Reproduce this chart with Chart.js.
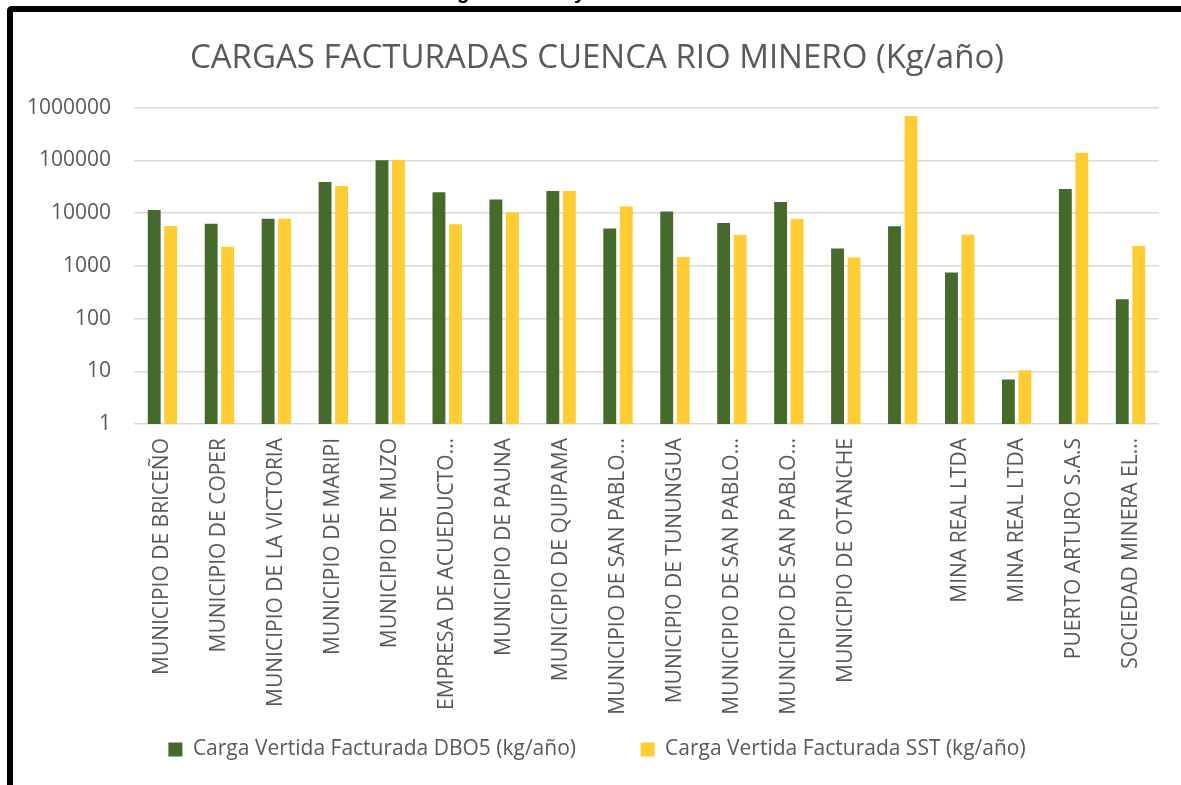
<!DOCTYPE html>
<html>
<head>
<meta charset="utf-8">
<script src="https://cdn.jsdelivr.net/npm/chart.js@4/dist/chart.umd.min.js"></script>
<style>
  html, body { margin: 0; padding: 0; background: #fff; width: 1181px; height: 785px; overflow: hidden; }
  #frame {
    position: absolute; left: 7px; top: 6px; right: 0; bottom: 0;
    border-left: 6px solid #000; border-top: 6px solid #000;
    border-top-left-radius: 5px;
  }
  #caption {
    position: absolute; top: -19px; left: 0; width: 1181px; height: 28px;
    font: bold 20px "Liberation Sans", sans-serif; color: #000;
  }
  #caption span { position: absolute; }
  #chart { position: absolute; left: 13px; top: 12px; }
</style>
</head>
<body>
<div id="caption"><span style="left:457px">g</span><span style="left:574px">y</span></div>
<div id="frame"></div>
<canvas id="chart" width="1168" height="773"></canvas>
<script>
const categories = [
    'MUNICIPIO DE BRICEÑO', 'MUNICIPIO DE COPER', 'MUNICIPIO DE LA VICTORIA', 'MUNICIPIO DE MARIPI',
    'MUNICIPIO DE MUZO', 'EMPRESA DE ACUEDUCTO…', 'MUNICIPIO DE PAUNA', 'MUNICIPIO DE QUIPAMA',
    'MUNICIPIO DE SAN PABLO…', 'MUNICIPIO DE TUNUNGUA', 'MUNICIPIO DE SAN PABLO…', 'MUNICIPIO DE SAN PABLO…',
    'MUNICIPIO DE OTANCHE', '', 'MINA REAL LTDA', 'MINA REAL LTDA', 'PUERTO ARTURO S.A.S', 'SOCIEDAD MINERA EL…'
];
const dbo5 = [11400, 6270, 7800, 38800, 100000, 24800, 18100, 26300, 5080, 10700, 6490, 16300, 2120, 5600, 748, 7, 28600, 233];
const sst = [5670, 2295, 7800, 32600, 101000, 6140, 10400, 26300, 13300, 1470, 3850, 7740, 1430, 695000, 3880, 10.5, 139700, 2366];
const yTicks = [1, 10, 100, 1000, 10000, 100000, 1000000];

const textColor = '#595959';
const fontFamily = '"Open Sans", sans-serif';

// title and legend are centred a bit further right than the full canvas
const shiftBlocks = {
    id: 'shiftBlocks',
    afterLayout(chart) {
        if (chart.titleBlock) chart.titleBlock.left = 22;
        if (chart.legend) chart.legend.left = 22;
    }
};

const ctx = document.getElementById('chart').getContext('2d');
new Chart(ctx, {
    type: 'bar',
    data: {
        labels: categories,
        datasets: [
            {
                label: 'Carga Vertida Facturada DBO5 (kg/año)',
                data: dbo5,
                backgroundColor: '#466A2C',
                barPercentage: 0.78,
                categoryPercentage: 0.58
            },
            {
                label: 'Carga Vertida Facturada SST (kg/año)',
                data: sst,
                backgroundColor: '#FFCD33',
                barPercentage: 0.78,
                categoryPercentage: 0.58
            }
        ]
    },
    plugins: [shiftBlocks],
    options: {
        responsive: false,
        animation: false,
        devicePixelRatio: 1,
        layout: { padding: { left: 0, right: 22, top: 0, bottom: 15 } },
        plugins: {
            title: {
                display: true,
                text: 'CARGAS FACTURADAS CUENCA RIO MINERO (Kg/año)',
                color: textColor,
                font: { family: fontFamily, size: 33, weight: 'normal' },
                padding: { top: 27, bottom: 29 }
            },
            legend: {
                position: 'bottom',
                labels: {
                    color: textColor,
                    font: { family: fontFamily, size: 21 },
                    boxWidth: 14,
                    boxHeight: 14,
                    padding: 10,
                    generateLabels: (chart) => {
                        const items = Chart.defaults.plugins.legend.labels.generateLabels(chart);
                        items[0].text += '          '; // wider gap between the two entries
                        return items;
                    }
                }
            },
            tooltip: { enabled: false }
        },
        scales: {
            x: {
                grid: { display: false, drawTicks: false },
                border: { display: false },
                ticks: {
                    autoSkip: false,
                    maxRotation: 90,
                    minRotation: 90,
                    padding: 14,
                    color: textColor,
                    font: { family: fontFamily, size: 21 }
                },
                afterFit: (scale) => { scale.height = 305; }
            },
            y: {
                type: 'logarithmic',
                min: 1,
                max: 1000000,
                grid: { color: '#D9D9D9', lineWidth: 1.5, drawTicks: false },
                border: { display: false },
                afterBuildTicks: (scale) => { scale.ticks = yTicks.map(v => ({ value: v })); },
                ticks: {
                    padding: 23,
                    color: textColor,
                    font: { family: fontFamily, size: 21 },
                    callback: (v) => String(v)
                },
                afterFit: (scale) => { scale.width = 121; }
            }
        }
    }
});
</script>
</body>
</html>
